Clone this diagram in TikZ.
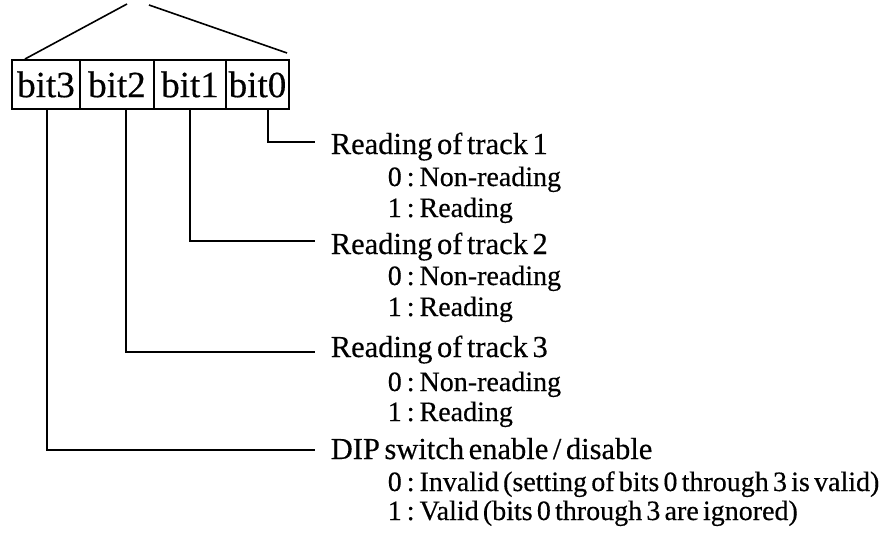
\documentclass[tikz,border=0pt]{standalone}
\usepackage{fontspec}
\setmainfont{Liberation Serif}[WordSpace=0.6, FakeBold=0.4]
\newcommand{\colsep}{\hspace{5pt}:\hspace{5pt}}
\begin{document}
\begin{tikzpicture}[x=1pt,y=-1pt,
  line width=1.6pt,
  cell/.style={draw, line width=1.3pt, minimum height=49pt, inner sep=0pt, font=\fontsize{37}{37}\selectfont},
  head/.style={anchor=base west, inner sep=0pt, font=\fontsize{30.5}{30.5}\selectfont},
  sub/.style={anchor=base west, inner sep=0pt, font=\fontsize{28}{28}\selectfont},
  conn/.style={line width=1.6pt}]
\useasboundingbox (0,0) rectangle (884,535);
% register cells
\node[cell, minimum width=68pt] (b3) at (46,84.5) {bit3};
\node[cell, minimum width=74pt] (b2) at (117,84.5) {bit2};
\node[cell, minimum width=72pt] (b1) at (190,84.5) {bit1};
\node[cell, minimum width=63pt] (b0) at (257.5,84.5) {bit0};
% bracket lines above
\coordinate (l1) at (25,59);
\coordinate (l2) at (127,4);
\coordinate (r1) at (149,5);
\coordinate (r2) at (287,53);
\draw[conn] (l1) -- (l2);
\draw[conn] (r1) -- (r2);
% connector ends
\coordinate (e0) at (315,142);
\coordinate (e1) at (315,241);
\coordinate (e2) at (315,352);
\coordinate (e3) at (315,450);
\draw[conn] ([xshift=10.5pt]b0.south) |- (e0);
\draw[conn] (b1.south) |- (e1);
\draw[conn] ([xshift=9pt]b2.south) |- (e2);
\draw[conn] ([xshift=1pt]b3.south) |- (e3);
% texts
\node[head] (t0) at (330,154) {Reading of track 1};
\node[sub] (t0a) at (387,186) {0\colsep Non-reading};
\node[sub] (t0b) at (387,217) {1\colsep Reading};
\node[head] (t1) at (330,254) {Reading of track 2};
\node[sub] (t1a) at (387,285) {0\colsep Non-reading};
\node[sub] (t1b) at (387,316) {1\colsep Reading};
\node[head] (t2) at (330,357) {Reading of track 3};
\node[sub] (t2a) at (387,391) {0\colsep Non-reading};
\node[sub] (t2b) at (387,421) {1\colsep Reading};
\node[head] (t3) at (330,459) {DIP switch enable / disable};
\node[sub] (t3a) at (387,491) {0\colsep Invalid (setting of bits 0 through 3 is valid)};
\node[sub] (t3b) at (387,520) {1\colsep Valid (bits 0 through 3 are ignored)};
\end{tikzpicture}
\end{document}
